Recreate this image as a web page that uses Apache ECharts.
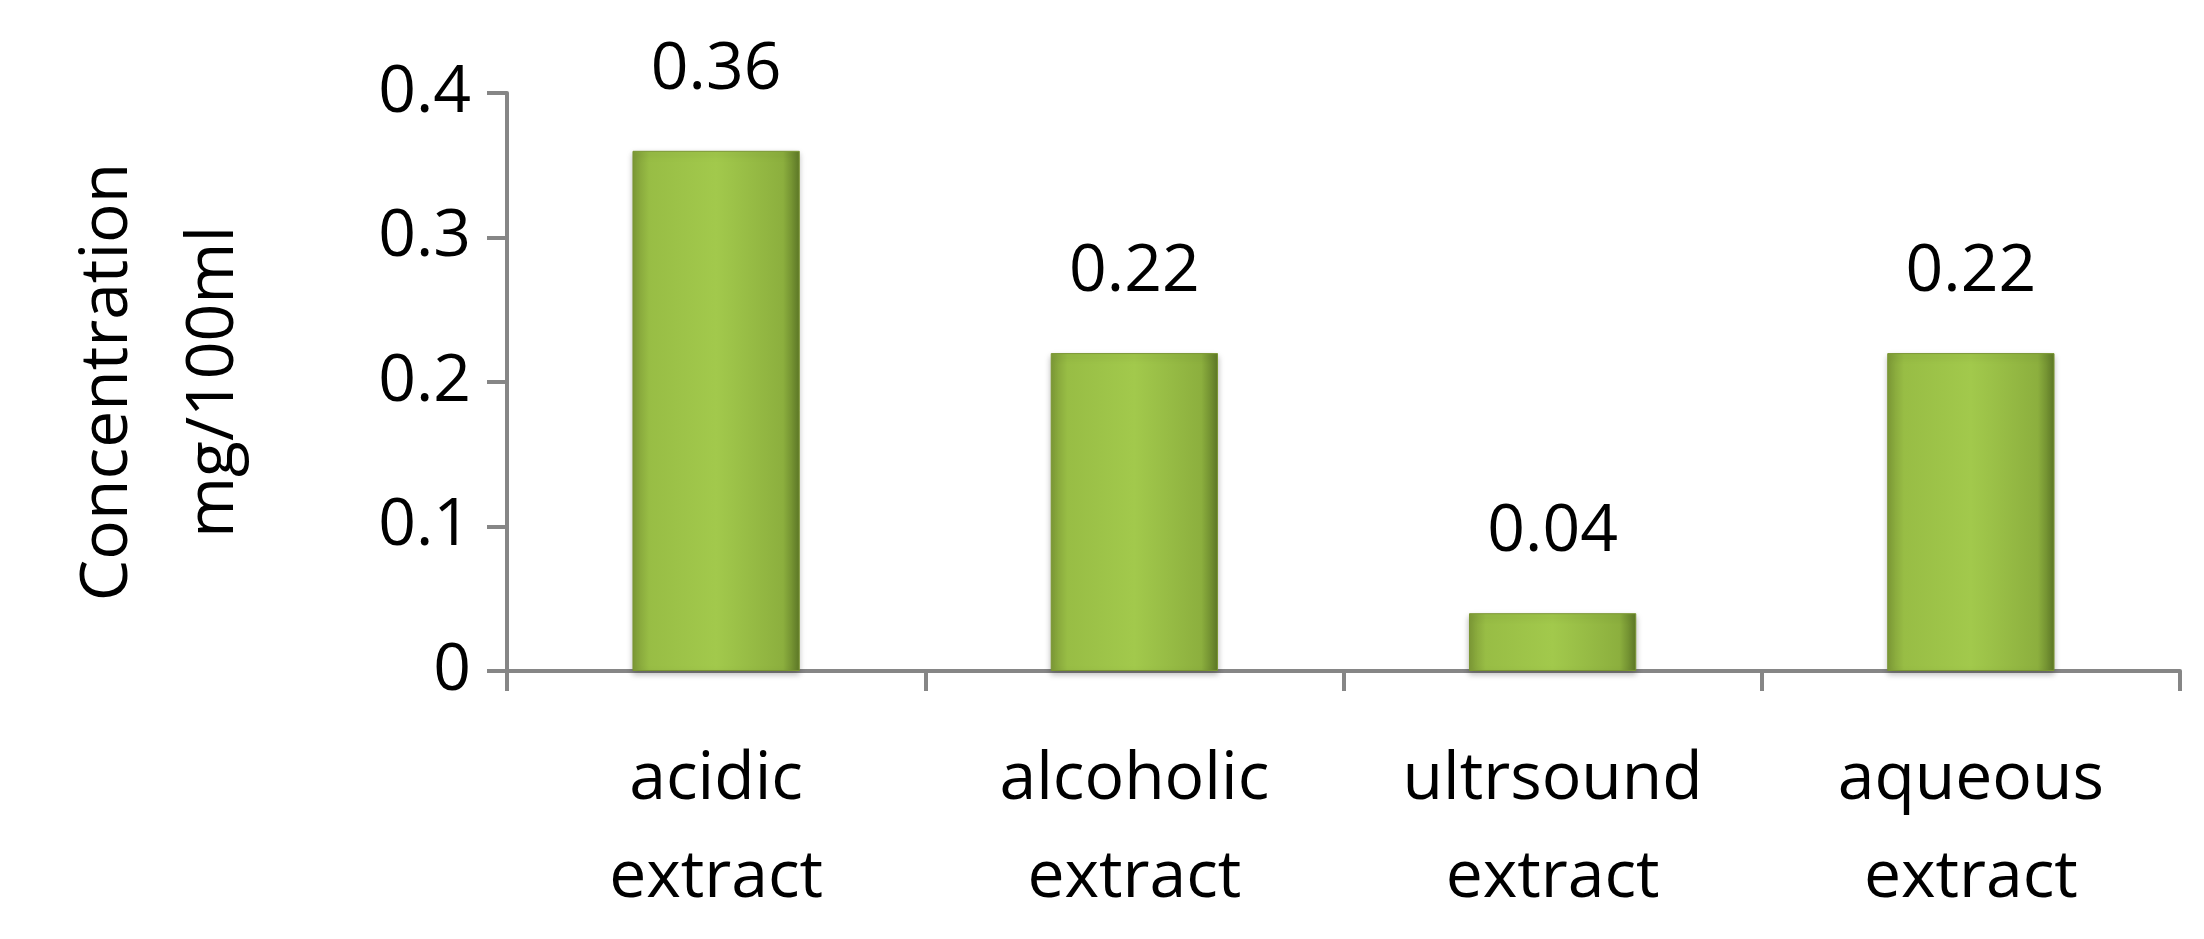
<!DOCTYPE html>
<html>
<head>
<meta charset="utf-8">
<script src="https://cdn.jsdelivr.net/npm/echarts@6/dist/echarts.min.js"></script>
<style>html,body{margin:0;padding:0;background:#fff}#chart{width:2204px;height:939px}</style>
</head>
<body>
<div id="chart"></div>
<script>
// 类目与数值
var categories = ['acidic\nextract', 'alcoholic\nextract', 'ultrsound\nextract', 'aqueous\nextract'];
var values = [0.36, 0.22, 0.04, 0.22];
var yTicks = [0, 0.1, 0.2, 0.3, 0.4];

var FONT = 'Open Sans';
var axisGray = '#868686';

var myChart = echarts.init(document.getElementById('chart'));
var option = {
    animation: false,
    grid: { left: 507, right: 24, top: 93, bottom: 268 },
    xAxis: {
        type: 'category',
        data: categories,
        axisLine: { lineStyle: { color: axisGray, width: 4 } },
        axisTick: { show: true, length: 20, lineStyle: { color: axisGray, width: 4 } },
        axisLabel: { color: '#000', fontFamily: FONT, fontSize: 66, lineHeight: 98, margin: 60 }
    },
    yAxis: {
        type: 'value',
        min: yTicks[0],
        max: yTicks[yTicks.length - 1],
        interval: 0.1,
        name: 'Concentration\nmg/100ml',
        nameLocation: 'middle',
        nameGap: 240,
        nameTextStyle: { color: '#000', fontFamily: FONT, fontSize: 66, lineHeight: 106 },
        splitLine: { show: false },
        axisLine: { show: true, lineStyle: { color: axisGray, width: 4 } },
        axisTick: { show: true, length: 20, lineStyle: { color: axisGray, width: 4 } },
        axisLabel: { color: '#000', fontFamily: FONT, fontSize: 66, margin: 36 }
    },
    series: [{
        type: 'bar',
        data: values,
        barWidth: '40%',
        itemStyle: {
            color: {
                type: 'linear', x: 0, y: 0, x2: 1, y2: 0,
                colorStops: [
                    { offset: 0, color: '#7e9b37' },
                    { offset: 0.1, color: '#98bd45' },
                    { offset: 0.5, color: '#a2c94c' },
                    { offset: 0.9, color: '#8caf3e' },
                    { offset: 1, color: '#5f7a28' }
                ]
            },
            borderColor: '#7a9632',
            borderWidth: 1,
            shadowBlur: 6,
            shadowColor: 'rgba(0,0,0,0.25)',
            shadowOffsetY: 3
        },
        label: {
            show: true,
            position: 'top',
            distance: 48,
            color: '#000',
            fontFamily: FONT,
            fontSize: 66
        }
    }]
};
myChart.setOption(option);
</script>
</body>
</html>
